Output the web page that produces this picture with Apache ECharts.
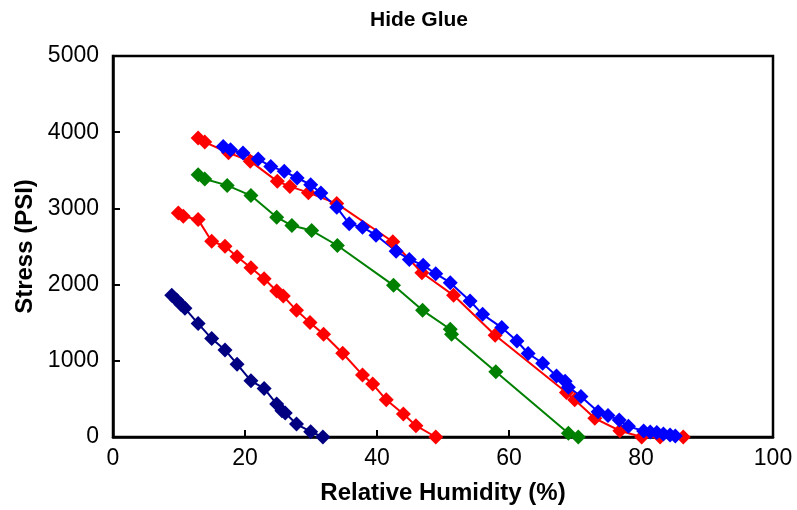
<!DOCTYPE html>
<html>
<head>
<meta charset="utf-8">
<script src="https://cdn.jsdelivr.net/npm/echarts@6/dist/echarts.min.js"></script>
<style>html,body{margin:0;padding:0;background:#fff}#c{width:797px;height:510px}</style>
</head>
<body>
<div id="c"></div>
<script>
var navyX = [8.9, 9.65, 10.3, 10.9, 12.9, 14.95, 16.97, 18.8, 20.9, 22.9, 24.8, 25.6, 26.1, 27.8, 29.95, 31.8];
var navyY = [1859, 1797, 1740, 1688, 1488, 1292, 1143, 955, 737, 637, 432, 344, 314, 170, 69, 0];

var redLowX = [9.9, 10.65, 12.9, 14.95, 16.97, 18.8, 20.9, 22.9, 24.8, 25.8, 27.8, 29.85, 31.9, 34.8, 37.8, 39.35, 41.4, 44.0, 45.9, 48.9];
var redLowY = [2941, 2897, 2853, 2569, 2504, 2365, 2221, 2077, 1915, 1849, 1662, 1501, 1348, 1099, 815, 694, 488, 301, 148, 0];

var greenX = [12.9, 13.9, 17.3, 20.9, 24.8, 27.1, 30.1, 34.0, 42.5, 46.9, 51.1, 51.3, 58.0, 69.0, 70.5];
var greenY = [3442, 3386, 3302, 3168, 2884, 2775, 2709, 2513, 1990, 1662, 1414, 1348, 855, 48, 0];

var redUpX = [12.9, 13.9, 17.5, 20.8, 24.9, 26.8, 29.6, 33.9, 42.4, 46.8, 51.6, 57.9, 68.7, 69.95, 73.0, 76.8, 80.1, 82.9, 86.4];
var redUpY = [3923, 3870, 3730, 3620, 3355, 3289, 3207, 3063, 2562, 2156, 1859, 1335, 585, 488, 245, 82, 0, 0, 0];

var blueX = [16.7, 17.8, 19.7, 22.0, 23.9, 25.95, 27.9, 29.95, 31.5, 33.9, 35.8, 37.8, 39.85, 42.9, 44.9, 47.0, 48.9, 51.1, 54.1, 56.0, 58.9, 61.2, 62.9, 65.1, 67.2, 68.5, 69.0, 70.9, 73.5, 75.0, 76.7, 78.1, 80.4, 81.4, 82.4, 83.4, 84.4, 85.2];
var blueY = [3813, 3770, 3727, 3648, 3551, 3486, 3399, 3312, 3203, 3014, 2797, 2753, 2648, 2438, 2330, 2255, 2143, 2025, 1784, 1610, 1436, 1260, 1096, 969, 802, 733, 654, 533, 331, 281, 222, 140, 79, 65, 59, 39, 26, 13];

var title = 'Hide Glue';
var xName = 'Relative Humidity (%)';
var yName = 'Stress (PSI)';

function pairs(xs, ys) { return xs.map(function (x, i) { return [x, ys[i]]; }); }
function mk(name, xs, ys, color) {
  return {
    name: name, type: 'line', data: pairs(xs, ys),
    symbol: 'diamond', symbolSize: 15, showSymbol: true,
    lineStyle: { color: color, width: 2 },
    itemStyle: { color: color, borderWidth: 0 },
    animation: false
  };
}
var FONT = '"Liberation Sans", Arial, sans-serif';
var chart = echarts.init(document.getElementById('c'), null, { renderer: 'canvas' });
var axisCommon = {
  axisLine: { show: true, lineStyle: { color: '#000', width: 2.5 } },
  axisTick: { show: true, inside: true, length: 7, lineStyle: { color: '#000', width: 2 } },
  splitLine: { show: false }
};
chart.setOption({
  animation: false,
  backgroundColor: '#fff',
  title: {
    text: title, left: 365, top: 5,
    textStyle: { fontFamily: FONT, fontWeight: 'bold', fontSize: 21, color: '#000' }
  },
  grid: { left: 113, right: 24, top: 56, bottom: 72, show: true, borderColor: '#000', borderWidth: 2.5, backgroundColor: 'transparent' },
  xAxis: Object.assign({
    type: 'value', min: 0, max: 100, interval: 20,
    name: xName, nameLocation: 'middle', nameGap: 44,
    nameTextStyle: { fontFamily: FONT, fontWeight: 'bold', fontSize: 24, color: '#000' },
    axisLabel: { fontFamily: FONT, fontSize: 23, color: '#000', margin: 10 }
  }, axisCommon),
  yAxis: Object.assign({
    type: 'value', min: 0, max: 5000, interval: 1000,
    name: yName, nameLocation: 'middle', nameGap: 76,
    nameTextStyle: { fontFamily: FONT, fontWeight: 'bold', fontSize: 24, color: '#000' },
    axisLabel: { fontFamily: FONT, fontSize: 23, color: '#000', margin: 14, formatter: function (v) { return String(v); } }
  }, axisCommon),
  series: [
    mk('navy', navyX, navyY, '#000080'),
    mk('redLow', redLowX, redLowY, '#FF0000'),
    mk('green', greenX, greenY, '#008000'),
    mk('redUp', redUpX, redUpY, '#FF0000'),
    mk('blue', blueX, blueY, '#0000FF')
  ]
});
</script>
</body>
</html>
